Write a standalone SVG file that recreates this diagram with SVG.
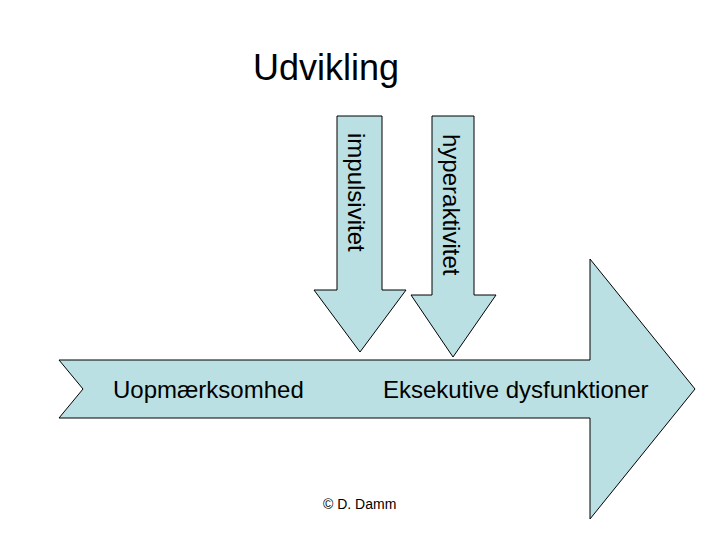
<svg xmlns="http://www.w3.org/2000/svg" width="720" height="540" viewBox="0 0 720 540">
<style>
.shape{fill:#BBE0E3;stroke:#000;stroke-width:1;stroke-linejoin:miter}
.t{font-family:"Liberation Sans",Arial,sans-serif;fill:#000}
</style>
<rect width="720" height="540" fill="#fff"/>
<text class="t" x="253" y="80" font-size="36">Udvikling</text>
<g id="main-arrow">
<polygon class="shape" points="59,360 590,360 590,259 695,389 590,519 590,418 59,418 83,389"/>
<text class="t" x="113" y="398" font-size="24">Uopmærksomhed</text>
<text class="t" x="383" y="398" font-size="24">Eksekutive dysfunktioner</text>
</g>
<g id="impulsivitet">
<polygon class="shape" points="337,116 382,116 382,290 406,290 360,352 314,290 337,290"/>
<text class="t" font-size="24" transform="translate(348,133) rotate(90)">impulsivitet</text>
</g>
<g id="hyperaktivitet">
<polygon class="shape" points="432,116 474,116 474,295 496,295 453,357 411,295 432,295"/>
<text class="t" font-size="24" transform="translate(443,134) rotate(90)">hyperaktivitet</text>
</g>
<g id="connectors"></g>
<text class="t" x="323" y="509" font-size="14">© D. Damm</text>
</svg>
